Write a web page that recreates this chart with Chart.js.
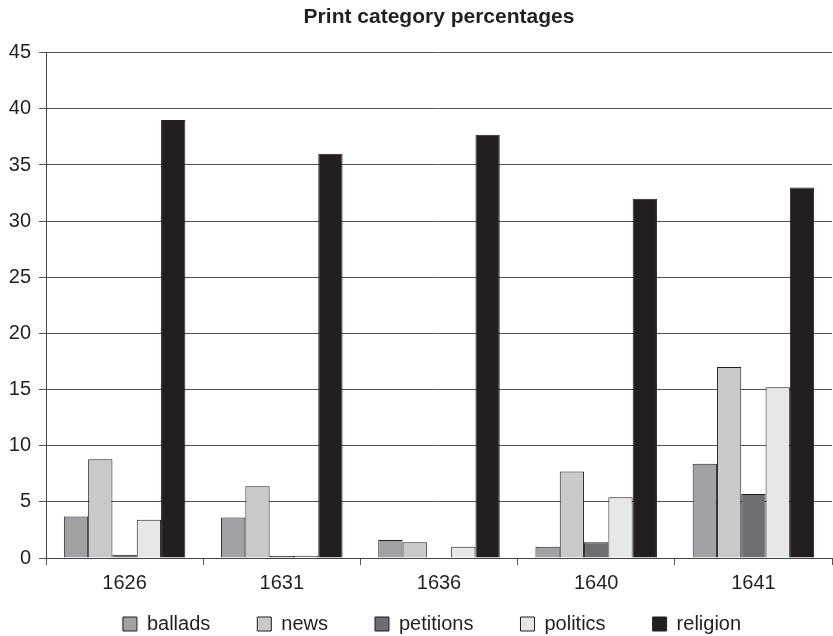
<!DOCTYPE html>
<html>
<head>
<meta charset="utf-8">
<script src="https://cdn.jsdelivr.net/npm/chart.js@4/dist/chart.umd.min.js"></script>
<style>
  html, body { margin: 0; padding: 0; background: #fff; }
  #wrap { width: 833px; height: 636px; }
</style>
</head>
<body>
<div id="wrap"><canvas id="c" width="833" height="636"></canvas></div>
<script>
// Print output by year, share of each category (%)
const years = ['1626', '1631', '1636', '1640', '1641'];
const ballads   = [3.7, 3.6, 1.6, 1.0, 8.4];
const news      = [8.8, 6.4, 1.4, 7.7, 17.0];
const petitions = [0.3, 0.2, 0, 1.4, 5.7];
const politics  = [3.4, 0.2, 1.0, 5.4, 15.2];
const religion  = [39.0, 36.0, 37.7, 32.0, 33.0];
const yTicks = [0, 5, 10, 15, 20, 25, 30, 35, 40, 45];

const ink = '#231f20';
const series = [
  { label: 'ballads',   data: ballads,   color: '#a0a1a4' },
  { label: 'news',      data: news,      color: '#c8c9cb' },
  { label: 'petitions', data: petitions, color: '#6d6e71' },
  { label: 'politics',  data: politics,  color: '#e6e7e8' },
  { label: 'religion',  data: religion,  color: ink }
];

Chart.defaults.font.family = '"Liberation Sans", Arial, sans-serif';
Chart.defaults.color = ink;

const LEGEND_HEIGHT = 40;

// The legend uses wide horizontal gaps; keep its reserved height compact,
// centre title and legend over the plot area, and seat the legend row
// just under the category labels.
const placeBlocks = {
  id: 'placeBlocks',
  beforeLayout(chart) {
    const lg = chart.legend;
    if (lg && !lg._compactFit) {
      const fit = lg.fit.bind(lg);
      lg.fit = function () { fit(); this.height = LEGEND_HEIGHT; };
      lg._compactFit = true;
    }
  },
  beforeDraw(chart) {
    const a = chart.chartArea;
    if (chart.titleBlock) {
      chart.titleBlock.left = a.left;
      chart.titleBlock.right = a.right;
    }
    if (chart.legend) {
      chart.legend.left = a.left - 14;
      chart.legend.right = a.right;
      chart.legend.top = a.bottom + 9;
    }
  }
};

new Chart(document.getElementById('c'), {
  type: 'bar',
  data: {
    labels: years,
    datasets: series.map(s => ({
      label: s.label,
      data: s.data,
      backgroundColor: s.color,
      borderColor: ink,
      borderWidth: 1,
      borderSkipped: 'start',
      barPercentage: 1.0,
      categoryPercentage: 0.773
    }))
  },
  plugins: [placeBlocks],
  options: {
    responsive: false,
    animation: false,
    devicePixelRatio: 1,
    layout: { padding: { left: 0, right: 1, top: 0, bottom: 0 } },
    plugins: {
      title: {
        display: true,
        text: 'Print category percentages',
        font: { size: 21, weight: 'bold' },
        color: ink,
        padding: { top: 5, bottom: 22.5 }
      },
      legend: {
        position: 'bottom',
        labels: {
          boxWidth: 14,
          boxHeight: 14,
          padding: 47,
          font: { size: 20 },
          color: ink,
          generateLabels(chart) {
            return chart.data.datasets.map((d, i) => ({
              text: d.label,
              fillStyle: d.backgroundColor,
              strokeStyle: ink,
              lineWidth: 1,
              hidden: false,
              datasetIndex: i,
              fontColor: ink
            }));
          }
        }
      },
      tooltip: { enabled: false }
    },
    scales: {
      x: {
        grid: {
          offset: true,
          drawOnChartArea: false,
          drawTicks: true,
          tickLength: 7,
          color: '#555'
        },
        border: { display: true, color: '#444', width: 1 },
        ticks: { font: { size: 20 }, color: ink, padding: 6 },
        afterFit(scale) { scale.height = 78 - LEGEND_HEIGHT; }
      },
      y: {
        min: 0,
        max: 45,
        afterBuildTicks(scale) { scale.ticks = yTicks.map(v => ({ value: v })); },
        grid: {
          color: '#555',
          lineWidth: 1,
          drawTicks: true,
          tickLength: 7
        },
        border: { display: true, color: '#444', width: 1 },
        ticks: { font: { size: 20 }, color: ink, padding: 8 },
        afterFit(scale) { scale.width = 46; }
      }
    }
  }
});
</script>
</body>
</html>
